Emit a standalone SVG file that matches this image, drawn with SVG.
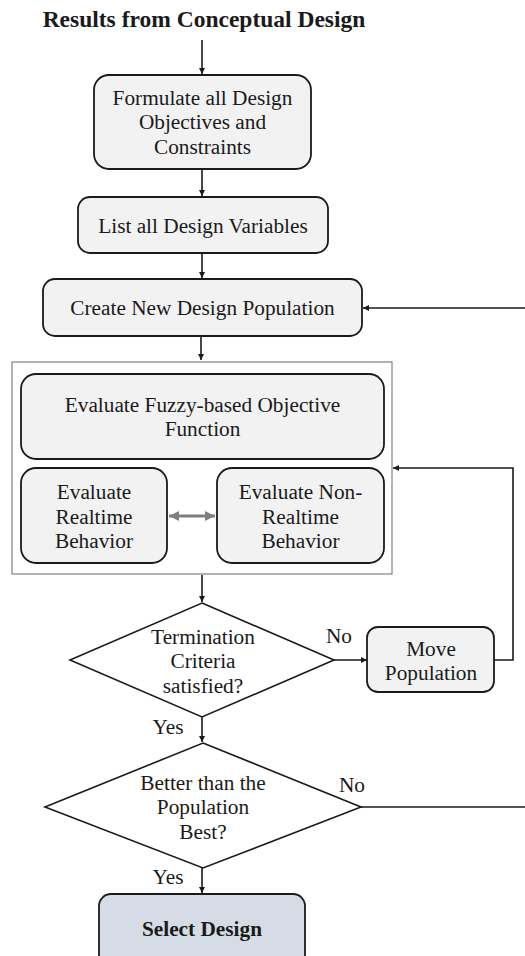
<svg xmlns="http://www.w3.org/2000/svg" width="525" height="956" viewBox="0 0 525 956">
<style>
.box{fill:#f2f2f2;stroke:#1a1a1a;stroke-width:1.8}
.sel{fill:#d6dce5;stroke:#1a1a1a;stroke-width:1.8}
.dia{fill:#ffffff;stroke:#1a1a1a;stroke-width:1.6}
.t{font-family:"Liberation Serif","Times New Roman",serif;font-size:21.3px;fill:#1a1a1a;text-anchor:middle}
.b{font-weight:bold}
.line{fill:none;stroke:#1a1a1a;stroke-width:1.6}
</style>
<defs>
<marker id="ah" viewBox="0 0 10 10" refX="10" refY="5" markerWidth="6" markerHeight="6" orient="auto" markerUnits="userSpaceOnUse">
<path d="M0,0 L10,5 L0,10 z" fill="#1a1a1a"/>
</marker>
<marker id="gh" viewBox="0 0 10 10" refX="10" refY="5" markerWidth="10" markerHeight="10" orient="auto-start-reverse" markerUnits="userSpaceOnUse">
<path d="M0,0 L10,5 L0,10 z" fill="#7f7f7f"/>
</marker>
</defs>
<rect width="525" height="956" fill="#ffffff"/>
<g id="title"><text class="t b" x="204" y="27" style="font-size:23.5px">Results from Conceptual Design</text></g>
<g id="container"><rect x="12" y="362" width="380" height="212" fill="none" stroke="#808080" stroke-width="1.2"/></g>
<g id="formulate"><rect class="box" x="94" y="75" width="217" height="94" rx="15"/>
<text class="t" x="202.5" y="105">Formulate all Design</text><text class="t" x="202.5" y="129">Objectives and</text><text class="t" x="202.5" y="154">Constraints</text></g>
<g id="listvars"><rect class="box" x="78" y="197" width="250" height="56" rx="12"/>
<text class="t" x="203" y="233">List all Design Variables</text></g>
<g id="create"><rect class="box" x="43" y="279" width="319" height="57" rx="12"/>
<text class="t" x="202.5" y="315">Create New Design Population</text></g>
<g id="fuzzy"><rect class="box" x="21" y="374" width="363" height="85" rx="15"/>
<text class="t" x="202.5" y="412">Evaluate Fuzzy-based Objective</text><text class="t" x="202.5" y="436">Function</text></g>
<g id="realtime"><rect class="box" x="21" y="468" width="146" height="95" rx="15"/>
<text class="t" x="94" y="499">Evaluate</text><text class="t" x="94" y="524">Realtime</text><text class="t" x="94" y="548">Behavior</text></g>
<g id="nonrealtime"><rect class="box" x="217" y="468" width="167" height="95" rx="15"/>
<text class="t" x="300.5" y="499">Evaluate Non-</text><text class="t" x="300.5" y="524">Realtime</text><text class="t" x="300.5" y="548">Behavior</text></g>
<g id="termination"><polygon class="dia" points="202,603 334,660 202,717 70,660"/>
<text class="t" x="203" y="644">Termination</text><text class="t" x="203" y="668">Criteria</text><text class="t" x="203" y="693">satisfied?</text></g>
<g id="move"><rect class="box" x="367" y="627" width="127" height="65" rx="11"/>
<text class="t" x="431" y="656">Move</text><text class="t" x="431" y="680">Population</text></g>
<g id="better"><polygon class="dia" points="203,743 361,807 203,868 45,807"/>
<text class="t" x="203" y="790">Better than the</text><text class="t" x="203" y="814">Population</text><text class="t" x="203" y="839">Best?</text></g>
<g id="select"><rect class="sel" x="99" y="894" width="206" height="80" rx="12"/>
<text class="t b" x="202" y="936">Select Design</text></g>
<g id="connectors">
<line class="line" x1="202" y1="40" x2="202" y2="74" marker-end="url(#ah)"/>
<line class="line" x1="202" y1="169" x2="202" y2="196" marker-end="url(#ah)"/>
<line class="line" x1="202" y1="253" x2="202" y2="278" marker-end="url(#ah)"/>
<line class="line" x1="525" y1="308" x2="363" y2="308" marker-end="url(#ah)"/>
<line class="line" x1="201" y1="336" x2="201" y2="360" marker-end="url(#ah)"/>
<line x1="169" y1="516" x2="215" y2="516" stroke="#7f7f7f" stroke-width="3" marker-start="url(#gh)" marker-end="url(#gh)"/>
<line class="line" x1="202" y1="575" x2="202" y2="602" marker-end="url(#ah)"/>
<line class="line" x1="334" y1="660" x2="367" y2="660" marker-end="url(#ah)"/>
<polyline class="line" points="494,660 513,660 513,468 393,468" marker-end="url(#ah)"/>
<line class="line" x1="202" y1="717" x2="202" y2="742" marker-end="url(#ah)"/>
<line class="line" x1="361" y1="807" x2="525" y2="807"/>
<line class="line" x1="202" y1="868" x2="202" y2="893" marker-end="url(#ah)"/>
<text class="t" x="339" y="643">No</text>
<text class="t" x="168" y="734">Yes</text>
<text class="t" x="352" y="792">No</text>
<text class="t" x="168" y="884">Yes</text>
</g>
</svg>
